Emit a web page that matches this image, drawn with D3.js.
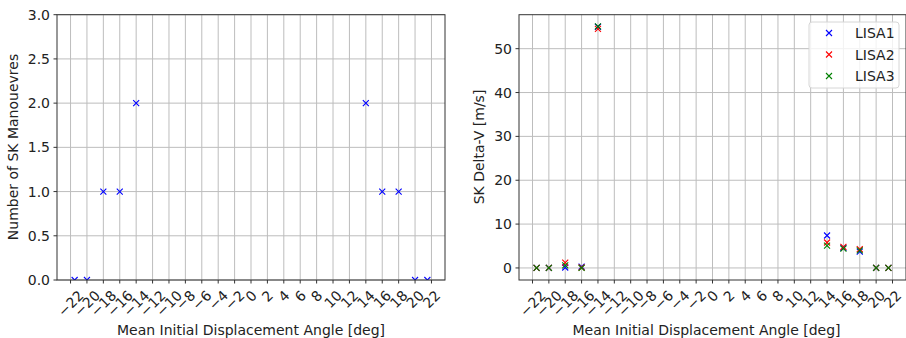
<!DOCTYPE html>
<html lang="en">
<head>
<meta charset="UTF-8">
<title>SK manoeuvres</title>
<style>
    body { margin: 0; padding: 0; background: white; }
    svg text { font-family: "DejaVu Sans", sans-serif; font-size: 14px; fill: #222; }
    .grid line { stroke: #bdbdbd; stroke-width: 1; }
    .frame { fill: none; stroke: #333; stroke-width: 1; }
    .tick-mark { stroke: #333; stroke-width: 1; }
</style>
</head>
<body>
<script src="https://cdn.jsdelivr.net/npm/d3@7"></script>
<script>
    // mean initial displacement angle [deg]
    var angles = [-21.5, -20, -18, -16, -14, 14, 16, 18, 20, 21.5];
    var xTicks = d3.range(-22, 23, 2);

    // number of SK manoeuvres (same for all)
    var manoeuvres = [0, 0, 1, 1, 2, 2, 1, 1, 0, 0];

    // SK delta-v [m/s]
    var lisa1 = [0, 0, 0.1, 0.3, 55.0, 7.4, 4.6, 3.7, 0, 0];
    var lisa2 = [0, 0, 1.2, 0.1, 54.5, 5.8, 4.8, 4.3, 0, 0];
    var lisa3 = [0, 0, 0.6, 0.0, 55.1, 5.1, 4.4, 4.0, 0, 0];
    var seriesNames = ['LISA1', 'LISA2', 'LISA3'];
    var seriesColors = ['#0000ff', '#ff0000', '#008000'];

    var svg = d3.select('body').append('svg')
        .attr('width', 906)
        .attr('height', 338);

    function xMarker(g, x, y, color) {
        var s = 3;
        g.append('path')
            .attr('d', 'M' + (x - s) + ',' + (y - s) + 'L' + (x + s) + ',' + (y + s) +
                'M' + (x - s) + ',' + (y + s) + 'L' + (x + s) + ',' + (y - s))
            .attr('stroke', color)
            .attr('stroke-width', 1.1)
            .attr('fill', 'none');
    }

    function drawPanel(opt) {
        var x = d3.scaleLinear().domain([-23.65, 23.65]).range([opt.left, opt.right]);
        var y = d3.scaleLinear().domain(opt.yDomain).range([280, 14.7]);
        var g = svg.append('g');

        var clipId = 'clip' + opt.id;
        svg.append('clipPath').attr('id', clipId)
            .append('rect')
            .attr('x', opt.left).attr('y', 14.7)
            .attr('width', opt.right - opt.left).attr('height', 280 - 14.7);

        // grid
        var grid = g.append('g').attr('class', 'grid');
        grid.selectAll('line.v').data(xTicks).enter().append('line')
            .attr('x1', function(d) { return x(d); })
            .attr('x2', function(d) { return x(d); })
            .attr('y1', 14.7).attr('y2', 280);
        grid.selectAll('line.h').data(opt.yTicks).enter().append('line')
            .attr('x1', opt.left).attr('x2', opt.right)
            .attr('y1', function(d) { return y(d); })
            .attr('y2', function(d) { return y(d); });

        // points
        var pts = g.append('g').attr('clip-path', 'url(#' + clipId + ')');
        opt.series.forEach(function(vals, k) {
            vals.forEach(function(v, i) {
                xMarker(pts, x(angles[i]), y(v), opt.colors[k]);
            });
        });

        // frame
        g.append('rect').attr('class', 'frame')
            .attr('x', opt.left).attr('y', 14.7)
            .attr('width', opt.right - opt.left).attr('height', 280 - 14.7);

        // y ticks
        opt.yTicks.forEach(function(t) {
            g.append('line').attr('class', 'tick-mark')
                .attr('x1', opt.left - 3.5).attr('x2', opt.left)
                .attr('y1', y(t)).attr('y2', y(t));
            g.append('text')
                .attr('x', opt.left - 7)
                .attr('y', y(t))
                .attr('dy', '0.36em')
                .attr('text-anchor', 'end')
                .text(opt.yFormat(t));
        });

        // x ticks, rotated 45 deg, centred like matplotlib
        xTicks.forEach(function(t) {
            var tx = x(t);
            g.append('line').attr('class', 'tick-mark')
                .attr('x1', tx).attr('x2', tx)
                .attr('y1', 280).attr('y2', 283.5);
            var lab = g.append('text')
                .attr('text-anchor', 'middle')
                .attr('dy', '0.36em')
                .text(d3.format('')(t).replace('-', '\u2212'));
            var w = lab.node().getComputedTextLength();
            var h = 14;
            var bh = (w + h) * Math.SQRT1_2;
            var cy = 288 + bh / 2;
            lab.attr('transform', 'translate(' + tx + ',' + cy + ') rotate(-45)');
        });

        // axis labels
        g.append('text')
            .attr('x', (opt.left + opt.right) / 2 - (opt.id === 'b' ? 6 : 0))
            .attr('y', 335)
            .attr('text-anchor', 'middle')
            .text('Mean Initial Displacement Angle [deg]');
        g.append('text')
            .attr('transform', 'translate(' + opt.yLabelX + ',' + 147 + ') rotate(-90)')
            .attr('text-anchor', 'middle')
            .attr('dy', '0.36em')
            .text(opt.yLabel);
    }

    drawPanel({
        id: 'a', left: 57, right: 445,
        yDomain: [0, 3], yTicks: d3.range(0, 3.01, 0.5),
        yFormat: d3.format('.1f'),
        series: [manoeuvres], colors: [seriesColors[0]],
        yLabel: 'Number of SK Manouevres', yLabelX: 13
    });

    drawPanel({
        id: 'b', left: 519, right: 906,
        yDomain: [-2.75, 57.75], yTicks: [0, 10, 20, 30, 40, 50],
        yFormat: d3.format('d'),
        series: [lisa1, lisa2, lisa3], colors: seriesColors,
        yLabel: 'SK Delta-V [m/s]', yLabelX: 479
    });

    // legend
    var leg = svg.append('g');
    leg.append('rect')
        .attr('x', 809).attr('y', 22)
        .attr('width', 90).attr('height', 66)
        .attr('rx', 3)
        .attr('fill', 'rgba(255,255,255,0.8)')
        .attr('stroke', '#d6d6d6');
    seriesNames.forEach(function(name, i) {
        var ly = 33 + i * 21.5;
        xMarker(leg, 829, ly, seriesColors[i]);
        leg.append('text')
            .attr('x', 855).attr('y', ly)
            .attr('dy', '0.36em')
            .text(name);
    });
</script>
</body>
</html>
